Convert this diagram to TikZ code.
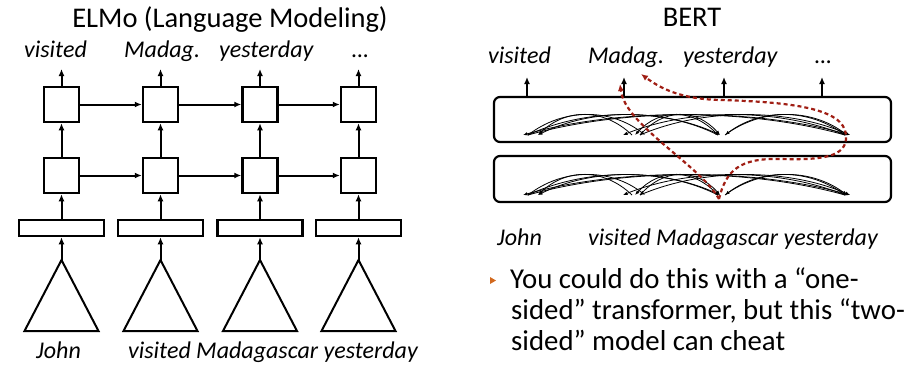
\documentclass[tikz,border=0pt]{standalone}
\usepackage{fontspec}
\setmainfont{Carlito}
\usetikzlibrary{arrows.meta}
\definecolor{cheat}{HTML}{A01E14}
\definecolor{bulletcol}{HTML}{D2691E}

\begin{document}
\begin{tikzpicture}[x=1pt,y=-1pt,
  arr/.style={line width=2pt,-{Latex[length=7pt,width=6pt]}},
  cell/.style={draw,line width=2.5pt,minimum size=35pt,inner sep=0pt},
  emb/.style={draw,line width=2.5pt,minimum width=85pt,minimum height=16pt,inner sep=0pt},
  layerbox/.style={draw,line width=2.2pt,rounded corners=6pt,minimum width=397pt,minimum height=45pt,inner sep=0pt},
  att/.style={line width=0.8pt,-{Latex[length=4.5pt,width=3.5pt]}},
  cheatpath/.style={cheat,line width=2.2pt,dash pattern=on 4pt off 3pt,-{Latex[length=7pt,width=6pt]}},
  word/.style={font=\fontsize{24}{28}\selectfont\itshape,anchor=base west,inner sep=0pt},
  heading/.style={font=\fontsize{28.5}{32}\selectfont,anchor=base,inner sep=0pt},
  bodytext/.style={font=\fontsize{28.8}{31}\selectfont,anchor=base west,inner sep=0pt},
]
\useasboundingbox (0,0) rectangle (919,367);

% ---------------- ELMo ----------------
\node[heading] (elmo) at (230,27) {ELMo (Language Modeling)};

\foreach \i/\x in {1/61.5,2/160.5,3/260,4/358.5} {
  \node[cell] (u\i) at (\x,104.5) {};
  \node[cell] (l\i) at (\x,175.5) {};
  \node[emb] (r\i) at (\x,228) {};
  \coordinate (a\i) at (\x,260);
  \coordinate (o\i) at (\x,69);
  \draw[line width=2pt] (a\i) -- ++(-37,71) -- ++(74,0) -- cycle;
  \draw[arr] (a\i) -- (r\i.south);
  \draw[arr] (r\i.north) -- (l\i.south);
  \draw[arr] (l\i.north) -- (u\i.south);
  \draw[arr] (u\i.north) -- (o\i);
}
\foreach \i/\j in {1/2,2/3,3/4} {
  \draw[arr] (u\i) -- (u\j);
  \draw[arr] (l\i) -- (l\j);
}

\node[word] (ew1) at (24,57) {visited};
\node[word] (ew2) at (124,57) {Madag.};
\node[word] (ew3) at (219,57) {yesterday};
\node[word] (ew4) at (352,57) {…};
\node[word] (ein1) at (36,358) {John};
\node[word] (ein2) at (128,358) {visited Madagascar yesterday};

% ---------------- BERT ----------------
\node[heading] (bert) at (692,26) {BERT};

\node[layerbox] (tb) at (692.5,119.5) {};
\node[layerbox,minimum height=46pt] (bb) at (692.5,179) {};

% attention arcs inside both layers
\foreach \yb in {135,195} {
  \foreach \s/\t in {632/538,718/538,845/523,528/645,718/635,845/623,
                     528/720,640/720,845/725,528/850,640/850,725/847} {
    \pgfmathsetmacro\ca{\s+0.3*(\t-\s)}
    \pgfmathsetmacro\cb{\t-0.3*(\t-\s)}
    \pgfmathsetmacro\ytop{\yb-27}
    \draw[att] (\s,\yb) .. controls (\ca,\ytop) and (\cb,\ytop) .. (\t,\yb);
  }
}

\foreach \i/\x in {1/527,2/624,3/724,4/822} {
  \coordinate (bo\i) at (\x,77);
  \draw[arr] (bo\i |- tb.north) -- (bo\i);
}

\node[word] (bw1) at (488,63) {visited};
\node[word] (bw2) at (588,63) {Madag.};
\node[word] (bw3) at (683,63) {yesterday};
\node[word] (bw4) at (815,63) {…};
\node[word] (bin1) at (497,245) {John};
\node[word] (bin2) at (588,245) {visited Madagascar yesterday};

% information leaking back to the predicted word
\coordinate (src) at (719,199);
\coordinate (tgt1) at (620,84);
\coordinate (tgt2) at (641,74);
\draw[cheatpath] (src) .. controls (700,165) and (625,125) .. (tgt1);
\draw[cheatpath] (src) .. controls (726,170) and (740,158) .. (780,159)
  .. controls (820,160) and (848,158) .. (846,135)
  .. controls (844,108) and (790,102) .. (720,100)
  .. controls (680,99) and (660,88) .. (tgt2);

% bullet point
\fill[bulletcol] (490,277) -- (496,280.5) -- (490,284) -- cycle;
\node[bodytext] (bl1) at (510,288) {You could do this with a “one-};
\node[bodytext] (bl2) at (511,319) {sided” transformer, but this “two-};
\node[bodytext] (bl3) at (511,350) {sided” model can cheat};
\end{tikzpicture}
\end{document}
